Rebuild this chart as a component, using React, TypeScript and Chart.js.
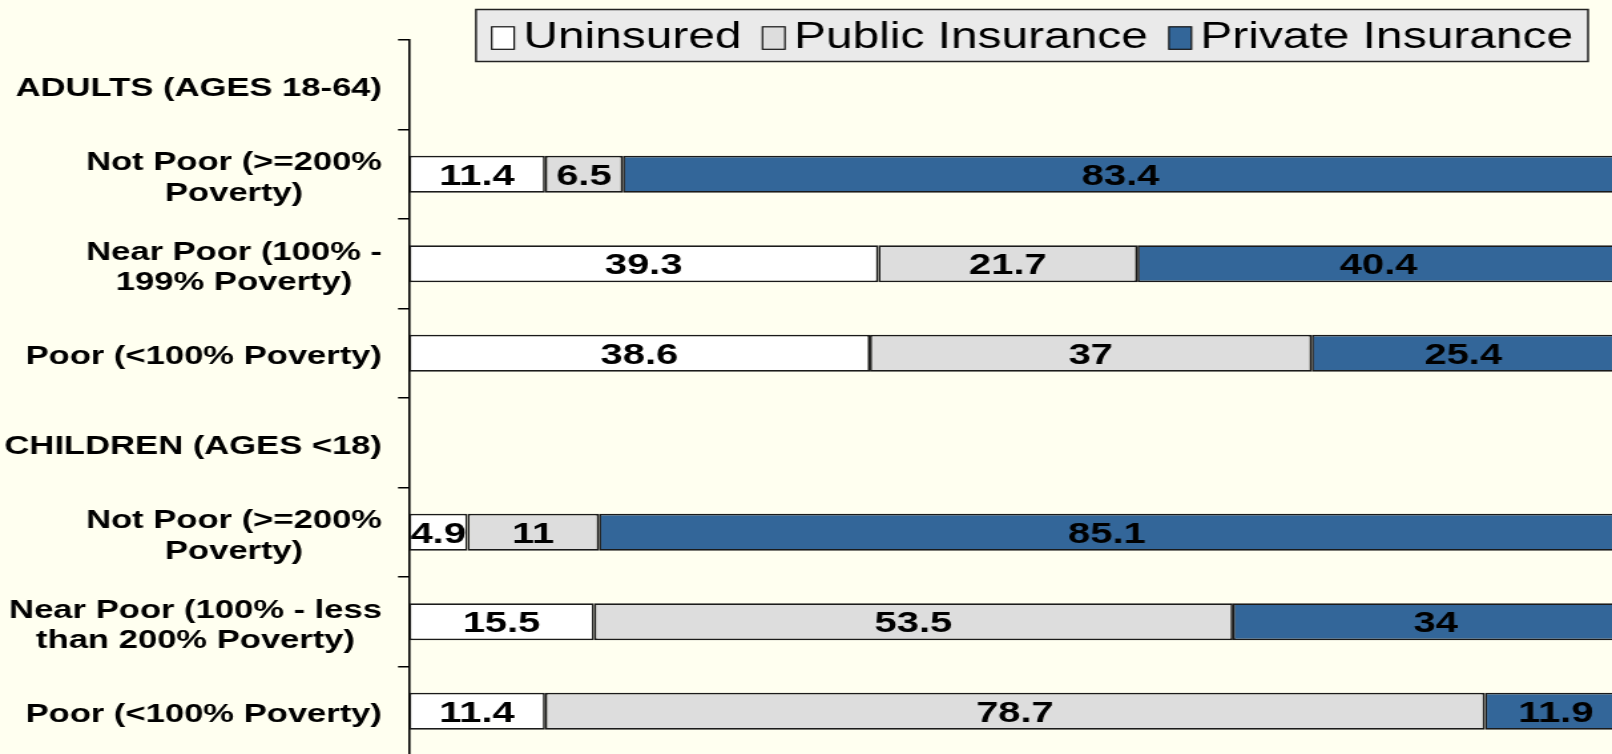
import React, { useEffect, useRef } from "react";
import { Chart, registerables } from "chart.js";

Chart.register(...registerables);

// ---------- data ----------
const categories: (string | string[])[] = [
  "ADULTS (AGES 18-64)",
  ["Not Poor (>=200%", "Poverty)"],
  ["Near Poor (100% -", "199% Poverty)"],
  "Poor (<100% Poverty)",
  "CHILDREN (AGES <18)",
  ["Not Poor (>=200%", "Poverty)"],
  ["Near Poor (100% - less", "than 200% Poverty)"],
  "Poor (<100% Poverty)",
];
const uninsured = [null, 11.4, 39.3, 38.6, null, 4.9, 15.5, 11.4];
const publicInsurance = [null, 6.5, 21.7, 37, null, 11, 53.5, 78.7];
const privateInsurance = [null, 83.4, 40.4, 25.4, null, 85.1, 34, 11.9];
const seriesNames = ["Uninsured", "Public Insurance", "Private Insurance"];
const seriesColors = ["#FFFFFF", "#DDDDDD", "#336699"];

// ---------- layout (internal coords, stretched horizontally by S) ----------
const S = 1.33;
const W = 1295;
const H = 770;
const BG = "#FFFFF0";
const AXIS_X = 409 / S;
const LABEL_RIGHT = 382 / S;
const PLOT_TOP = 40;
const PLOT_BOTTOM = 756;
const FONT = '"Liberation Sans", Arial, Helvetica, sans-serif';

const bgPlugin = {
  id: "bgFill",
  beforeDraw(chart: any) {
    const ctx = chart.ctx;
    ctx.save();
    ctx.fillStyle = BG;
    ctx.fillRect(0, 0, chart.width, chart.height);
    ctx.restore();
  },
};

const yLabelPlugin = {
  id: "yLabels",
  afterDraw(chart: any) {
    const ctx = chart.ctx;
    const scale = chart.scales.y;
    const labels = scale.getLabels();
    ctx.save();
    ctx.font = `bold 26px ${FONT}`;
    ctx.fillStyle = "#000";
    ctx.textAlign = "center";
    ctx.textBaseline = "middle";
    const lh = 30.5;
    scale.ticks.forEach((t: any, i: number) => {
      const raw = labels[t.value];
      const lines: string[] = Array.isArray(raw) ? raw : [raw];
      const widest = Math.max(...lines.map((l) => ctx.measureText(l).width));
      const cx = LABEL_RIGHT - widest / 2;
      const y = scale.getPixelForTick(i);
      lines.forEach((line, j) => {
        ctx.fillText(line, cx, y + (j - (lines.length - 1) / 2) * lh + 4);
      });
    });
    ctx.restore();
  },
};

const valueLabelPlugin = {
  id: "valueLabels",
  afterDatasetsDraw(chart: any) {
    const ctx = chart.ctx;
    ctx.save();
    ctx.font = `bold 30px ${FONT}`;
    ctx.fillStyle = "#000";
    ctx.textAlign = "center";
    ctx.textBaseline = "middle";
    chart.data.datasets.forEach((ds: any, di: number) => {
      const meta = chart.getDatasetMeta(di);
      meta.data.forEach((el: any, i: number) => {
        const v = ds.data[i];
        if (v === null || v === undefined) return;
        const p = el.getProps(["x", "y", "base"], true);
        ctx.fillText(String(v), (p.x + p.base) / 2, p.y + 2);
      });
    });
    ctx.restore();
  },
};

const legendPlugin = {
  id: "customLegend",
  afterDraw(chart: any) {
    const ctx = chart.ctx;
    ctx.save();
    ctx.font = `36px ${FONT}`;
    const left = 476 / S;
    const top = 9.5;
    const bottom = 61.5;
    const padL = 15.7 / S;
    const padR = 15 / S;
    const sqW = 22.5 / S;
    const sqH = 22.5;
    const sqTop = 26.8;
    const sqGap = 9 / S;
    const itemGap = 21 / S;
    const items = chart.data.datasets.map((d: any) => ({
      label: d.label,
      color: d.backgroundColor,
      w: ctx.measureText(d.label).width,
    }));
    let total = padL;
    items.forEach((it: any, k: number) => {
      total += sqW + sqGap + it.w + (k < items.length - 1 ? itemGap : 0);
    });
    total += padR;
    ctx.fillStyle = "#EAEAEA";
    ctx.fillRect(left, top, total, bottom - top);
    ctx.strokeStyle = "#222";
    ctx.lineWidth = 1.5;
    ctx.strokeRect(left, top, total, bottom - top);
    let x = left + padL;
    ctx.textAlign = "left";
    ctx.textBaseline = "alphabetic";
    items.forEach((it: any) => {
      ctx.fillStyle = it.color;
      ctx.fillRect(x, sqTop, sqW, sqH);
      ctx.strokeStyle = "#111";
      ctx.lineWidth = 1.2;
      ctx.strokeRect(x, sqTop, sqW, sqH);
      x += sqW + sqGap;
      ctx.fillStyle = "#000";
      ctx.fillText(it.label, x, 48);
      x += it.w + itemGap;
    });
    ctx.restore();
  },
};

export default function App() {
  const ref = useRef<HTMLCanvasElement | null>(null);

  useEffect(() => {
    if (!ref.current) return;
    const seriesData = [uninsured, publicInsurance, privateInsurance];
    const chart = new Chart(ref.current, {
      type: "bar",
      data: {
        labels: categories as any,
        datasets: seriesNames.map((name, k) => ({
          label: name,
          data: seriesData[k] as any,
          backgroundColor: seriesColors[k],
          borderColor: "#1A1A1A",
          borderWidth: 1.7,
          borderSkipped: false,
          barPercentage: 0.415,
          categoryPercentage: 1,
        })),
      },
      options: {
        indexAxis: "y",
        responsive: false,
        animation: false,
        devicePixelRatio: 1,
        layout: { padding: { top: PLOT_TOP, bottom: H - PLOT_BOTTOM, left: 0, right: 0 } },
        plugins: { legend: { display: false }, tooltip: { enabled: false } },
        scales: {
          x: { stacked: true, min: 0, max: 110, display: false },
          y: {
            stacked: true,
            offset: true,
            grid: {
              display: true,
              offset: true,
              drawOnChartArea: false,
              drawTicks: true,
              tickLength: 11 / S,
              color: "#000",
              lineWidth: 1.5,
            },
            border: { display: true, color: "#000", width: 1.6 },
            ticks: { display: false },
            afterFit(scale: any) {
              scale.width = AXIS_X;
            },
          },
        },
      },
      plugins: [bgPlugin, valueLabelPlugin, yLabelPlugin, legendPlugin],
    } as any);
    return () => chart.destroy();
  }, []);

  return (
    <div
      style={{
        position: "fixed",
        left: 0,
        top: 0,
        width: "100vw",
        height: "100vh",
        overflow: "hidden",
        background: BG,
      }}
    >
      <div
        style={{
          position: "absolute",
          left: 0,
          top: 0,
          transform: `scaleX(${S})`,
          transformOrigin: "0 0",
        }}
      >
        <canvas ref={ref} width={W} height={H} style={{ display: "block", width: W, height: H }} />
      </div>
    </div>
  );
}
